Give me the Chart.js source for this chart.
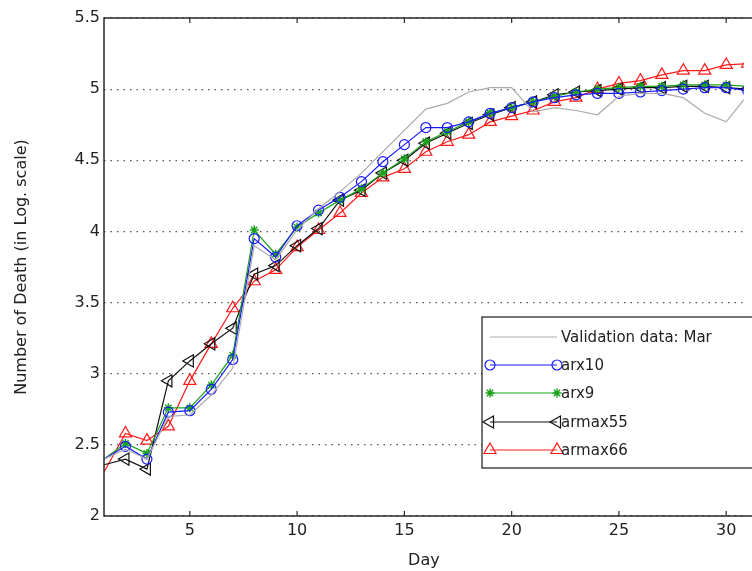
<!DOCTYPE html>
<html lang="en">
<head>
    <meta charset="UTF-8">
    <title>Number of Death - validation March</title>
    <script src="https://cdn.jsdelivr.net/npm/chart.js@4/dist/chart.umd.min.js"></script>
    <style>
        body { margin: 0; background: #fff; }
    </style>
</head>
<body>
<canvas id="myChart" width="752" height="571"></canvas>
<script>

    const days = [1, 2, 3, 4, 5, 6, 7, 8, 9, 10, 11, 12, 13, 14, 15, 16,
        17, 18, 19, 20, 21, 22, 23, 24, 25, 26, 27, 28, 29, 30, 31];
    const validation = [2.40, 2.47, 2.40, 2.70, 2.71, 2.85, 3.04, 3.90, 3.80, 4.01, 4.16, 4.28, 4.41, 4.56, 4.71, 4.86,
        4.90, 4.98, 5.01, 5.01, 4.84, 4.87, 4.85, 4.82, 4.95, 4.97, 4.97, 4.94, 4.83, 4.77, 4.96];
    const arx10 = [2.40, 2.49, 2.40, 2.73, 2.74, 2.89, 3.10, 3.95, 3.82, 4.04, 4.15, 4.24, 4.35, 4.49, 4.61, 4.73,
        4.73, 4.77, 4.83, 4.87, 4.91, 4.94, 4.96, 4.97, 4.97, 4.98, 4.99, 5.00, 5.01, 5.01, 4.99];
    const arx9 = [2.40, 2.51, 2.44, 2.76, 2.76, 2.92, 3.13, 4.01, 3.84, 4.03, 4.13, 4.22, 4.30, 4.41, 4.51, 4.63,
        4.70, 4.77, 4.83, 4.87, 4.91, 4.95, 4.98, 5.00, 5.01, 5.02, 5.02, 5.03, 5.03, 5.03, 5.02];
    const armax55 = [2.36, 2.40, 2.33, 2.95, 3.09, 3.21, 3.32, 3.70, 3.76, 3.90, 4.02, 4.22, 4.29, 4.41, 4.50, 4.62,
        4.69, 4.76, 4.82, 4.87, 4.91, 4.96, 4.98, 4.99, 5.00, 5.01, 5.01, 5.02, 5.02, 5.01, 5.00];
    const armax66 = [2.31, 2.58, 2.53, 2.63, 2.95, 3.21, 3.46, 3.65, 3.73, 3.89, 4.01, 4.13, 4.27, 4.38, 4.44, 4.56,
        4.63, 4.68, 4.77, 4.81, 4.85, 4.91, 4.94, 5.00, 5.04, 5.06, 5.10, 5.13, 5.13, 5.17, 5.18];
    const xTicks = [5, 10, 15, 20, 25, 30];
    const seriesNames = ["Validation data: Mar", "arx10", "arx9", "armax55", "armax66"];

    const FONT = "'DejaVu Sans', 'Liberation Sans', sans-serif";
    const toPoints = (vals) => vals.map((v, i) => ({x: days[i], y: v}));
    // MATLAB draws no marker on the first sample here
    const markerSize = (r) => (ctx) => ctx.dataIndex === 0 ? 0 : r;

    const datasets = [
        {label: seriesNames[0], data: toPoints(validation), borderColor: "#ababab", borderWidth: 1.2,
            pointRadius: 0, pointStyle: false},
        {label: seriesNames[1], data: toPoints(arx10), borderColor: "#1a1aff", borderWidth: 1.2,
            pointStyle: "circle", pointRadius: markerSize(5), pointBorderWidth: 1.2},
        {label: seriesNames[2], data: toPoints(arx9), borderColor: "#1aa31a", borderWidth: 1.2,
            pointStyle: "star", pointRadius: markerSize(4.5), pointBorderWidth: 1.5},
        {label: seriesNames[3], data: toPoints(armax55), borderColor: "#111111", borderWidth: 1.2,
            pointStyle: "triangle", pointRotation: -90, pointRadius: markerSize(7), pointBorderWidth: 1.2},
        {label: seriesNames[4], data: toPoints(armax66), borderColor: "#ff1a1a", borderWidth: 1.2,
            pointStyle: "triangle", pointRadius: markerSize(7), pointBorderWidth: 1.2}
    ];
    datasets.forEach(d => {
        d.pointBorderColor = d.borderColor;
        d.pointBackgroundColor = "rgba(0,0,0,0)";
        d.tension = 0;
    });

    // axes frame with inward tick marks, like the matlab figure
    const framePlugin = {
        id: "frame",
        afterDatasetsDraw(chart) {
            const {ctx, chartArea: a, scales: {x}} = chart;
            ctx.save();
            ctx.strokeStyle = "#2a2a2a";
            ctx.lineWidth = 1.5;
            ctx.beginPath();
            ctx.moveTo(chart.width + 2, a.top);
            ctx.lineTo(a.left, a.top);
            ctx.lineTo(a.left, a.bottom);
            ctx.lineTo(chart.width + 2, a.bottom);
            ctx.stroke();
            ctx.lineWidth = 1.2;
            xTicks.forEach(v => {
                const px = x.getPixelForValue(v);
                ctx.beginPath();
                ctx.moveTo(px, a.bottom);
                ctx.lineTo(px, a.bottom - 5);
                ctx.moveTo(px, a.top);
                ctx.lineTo(px, a.top + 5);
                ctx.stroke();
            });
            ctx.restore();
        }
    };

    const legendPlugin = {
        id: "boxLegend",
        afterDraw(chart) {
            const {ctx} = chart;
            const bx = 482, by = 317, bh = 151;
            ctx.save();
            ctx.fillStyle = "#fff";
            ctx.strokeStyle = "#2a2a2a";
            ctx.lineWidth = 1.3;
            ctx.fillRect(bx, by, chart.width - bx + 5, bh);
            ctx.strokeRect(bx, by, chart.width - bx + 5, bh);
            const rows = [337, 365, 393, 422, 450];
            const x0 = 490, x1 = 557;
            ctx.font = "15px " + FONT;
            ctx.textBaseline = "middle";
            chart.data.datasets.forEach((d, i) => {
                const y = rows[i];
                ctx.strokeStyle = d.borderColor;
                ctx.lineWidth = d.borderWidth;
                ctx.beginPath();
                ctx.moveTo(x0, y);
                ctx.lineTo(x1, y);
                ctx.stroke();
                if (d.pointStyle) {
                    const r = d.pointRadius({dataIndex: 1});
                    ctx.lineWidth = d.pointBorderWidth;
                    ctx.fillStyle = "rgba(0,0,0,0)";
                    [x0, x1].forEach(px => Chart.helpers.drawPoint(ctx, {
                        pointStyle: d.pointStyle, radius: r, rotation: d.pointRotation || 0,
                        borderWidth: d.pointBorderWidth
                    }, px, y));
                }
                ctx.fillStyle = "#222";
                ctx.fillText(d.label, x1 + 4, y + 1);
            });
            ctx.restore();
        }
    };

    const myChart = new Chart("myChart", {
        type: "line",
        data: {datasets: datasets},
        plugins: [framePlugin, legendPlugin],
        options: {
            responsive: false,
            animation: false,
            layout: {padding: {top: 18, right: 0, left: 0, bottom: 0}},
            plugins: {
                legend: {display: false},
                tooltip: {enabled: false}
            },
            scales: {
                x: {
                    type: "linear",
                    min: 1,
                    max: 30.82,
                    afterBuildTicks: s => { s.ticks = xTicks.map(v => ({value: v})); },
                    afterFit: s => { s.height = 55; },
                    grid: {display: false, drawTicks: false},
                    border: {display: false},
                    ticks: {padding: 5, color: "#222", font: {family: FONT, size: 16}, maxRotation: 0},
                    title: {display: true, text: "Day", color: "#222", font: {family: FONT, size: 16},
                        padding: {top: 2, bottom: 1}}
                },
                y: {
                    min: 2,
                    max: 5.5,
                    ticks: {stepSize: 0.5, padding: 4, color: "#222", font: {family: FONT, size: 16},
                        callback: v => String(v)},
                    afterFit: s => { s.width = 104; },
                    grid: {drawTicks: false, color: "#555", lineWidth: 1.2},
                    border: {display: false, dash: [1.5, 5]},
                    title: {display: true, text: "Number of Death (in Log. scale)", color: "#222",
                        font: {family: FONT, size: 16}, padding: {top: 12, bottom: 0}}
                }
            }
        }
    });
</script>
</body>
</html>
